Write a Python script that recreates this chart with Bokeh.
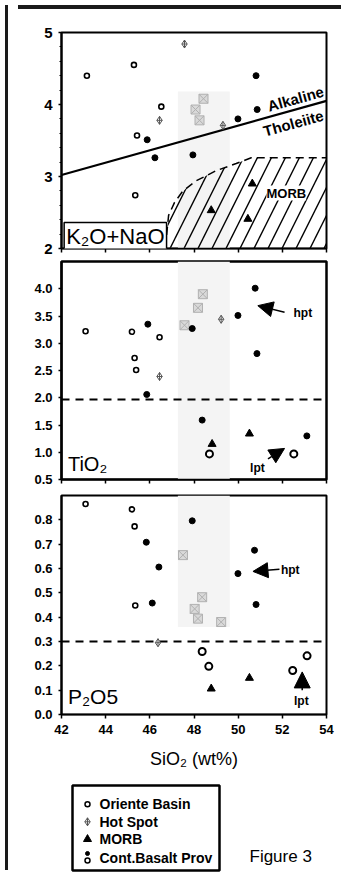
from bokeh.plotting import figure
from bokeh.layouts import column, row
from bokeh.models import (Range1d, FixedTicker, Arrow, NormalHead, Label, Div,
                          CustomLabelingPolicy)
from bokeh.embed import file_html
from bokeh.resources import INLINE

# ---------------- data ----------------
X_RANGE = (42, 54)
X_TICKS = [42, 44, 46, 48, 50, 52, 54]

# Panel 1: K2O + Na2O
k_ori_x = [43.15, 45.28, 46.52, 45.42, 45.34]
k_ori_y = [4.40, 4.55, 3.97, 3.57, 2.74]
k_hot_x = [47.57, 46.44, 49.31]
k_hot_y = [4.84, 3.78, 3.71]
k_hotg_x = [48.07, 48.43, 48.25]
k_hotg_y = [3.93, 4.08, 3.78]
k_cbp_x = [45.88, 46.23, 47.95, 49.99, 50.86, 50.81]
k_cbp_y = [3.51, 3.26, 3.30, 3.80, 3.93, 4.40]
k_morb_x = [48.78, 50.64, 50.44]
k_morb_y = [2.53, 2.90, 2.41]
alk_line_x = [42, 54]
alk_line_y = [3.02, 4.05]
morb_field_x = [46.70, 46.85, 47.12, 47.50, 48.10, 49.00, 49.91, 50.59, 54.0]
morb_field_y = [2.01, 2.46, 2.64, 2.80, 2.94, 3.08, 3.18, 3.26, 3.26]
K_YTICKS = [2, 3, 4, 5]

# Panel 2: TiO2
t_ori_x = [43.09, 45.19, 46.44, 45.31, 45.38]
t_ori_y = [3.22, 3.21, 3.11, 2.73, 2.51]
t_cbpo_x = [48.70, 52.52]
t_cbpo_y = [0.97, 0.97]
t_hot_x = [46.44, 49.23]
t_hot_y = [2.39, 3.44]
t_hotg_x = [47.57, 48.18, 48.40]
t_hotg_y = [3.33, 3.65, 3.90]
t_cbp_x = [45.91, 47.92, 49.99, 50.77, 50.85, 45.86, 48.37, 53.11]
t_cbp_y = [3.35, 3.27, 3.51, 4.01, 2.81, 2.06, 1.59, 1.30]
t_morb_x = [48.82, 50.51]
t_morb_y = [1.15, 1.34]
T_LIMIT = 1.97
T_YTICKS = [0.5, 1.0, 1.5, 2.0, 2.5, 3.0, 3.5, 4.0]

# Panel 3: P2O5
p_ori_x = [43.09, 45.19, 45.31, 45.34]
p_ori_y = [0.865, 0.843, 0.773, 0.448]
p_cbpo_x = [48.37, 48.67, 52.47, 53.12]
p_cbpo_y = [0.259, 0.198, 0.181, 0.241]
p_hot_x = [46.37]
p_hot_y = [0.295]
p_hotg_x = [47.50, 48.37, 48.03, 48.18, 49.23]
p_hotg_y = [0.655, 0.482, 0.434, 0.394, 0.380]
p_cbp_x = [47.92, 45.84, 46.41, 50.74, 49.99, 46.11, 50.81]
p_cbp_y = [0.796, 0.708, 0.606, 0.675, 0.579, 0.458, 0.452]
p_morb_x = [48.78, 50.51]
p_morb_y = [0.106, 0.150]
P_LIMIT = 0.30
P_YTICKS = [0.0, 0.1, 0.2, 0.3, 0.4, 0.5, 0.6, 0.7, 0.8]

legend_labels = ["Oriente Basin", "Hot Spot", "MORB", "Cont.Basalt Prov"]

FONT = "Liberation Sans"
BAND = (47.27, 49.62)
FIG_W = 330
BL, BR = 48, 17

NO_LABELS = CustomLabelingPolicy(code="""
try { for (let i = 0; i < indices.size; i++) { indices.unset(i) } } catch (e) {}
return indices
""")


def panel(height, top, bottom, yr, yticks, fmt, show_x, label_size):
    p = figure(width=FIG_W, height=height, x_range=Range1d(*X_RANGE), y_range=Range1d(*yr),
               output_backend="svg", toolbar_location=None,
               min_border_left=BL, min_border_right=BR, min_border_top=top, min_border_bottom=bottom)
    p.grid.visible = False
    p.outline_line_color = "black"
    p.outline_line_width = 2
    p.background_fill_color = "white"
    xa = p.xaxis[0]
    xa.ticker = FixedTicker(ticks=X_TICKS)
    xa.major_tick_out = 4
    xa.major_tick_in = 0
    xa.minor_tick_out = 0
    xa.axis_line_width = 1.5
    xa.major_tick_line_width = 1.5
    xa.axis_line_color = "black"
    xa.major_tick_line_color = "black"
    if show_x:
        xa.major_label_text_font = FONT
        xa.major_label_text_font_style = "bold"
        xa.major_label_text_font_size = "13px"
        xa.major_label_text_color = "black"
        xa.major_label_standoff = 6
        xa.axis_label = "SiO\u2082 (wt%)"
        xa.axis_label_text_font = FONT
        xa.axis_label_text_font_style = "normal"
        xa.axis_label_text_font_size = "18px"
        xa.axis_label_text_color = "black"
        xa.axis_label_standoff = 12
    else:
        xa.major_label_policy = NO_LABELS
        xa.major_label_text_font_size = "1px"
        xa.major_label_standoff = 0
    ya = p.yaxis[0]
    ya.ticker = FixedTicker(ticks=yticks)
    ya.major_label_overrides = {t: fmt.format(t) for t in yticks}
    ya.major_tick_out = 3
    ya.major_tick_in = 0
    ya.minor_tick_out = 0
    ya.axis_line_width = 2
    ya.axis_line_color = "black"
    ya.major_tick_line_width = 1.5
    ya.major_tick_line_color = "black"
    ya.major_label_text_font = FONT
    ya.major_label_text_font_style = "bold"
    ya.major_label_text_font_size = label_size
    ya.major_label_text_color = "black"
    ya.major_label_standoff = 6
    return p


def points(p, ori, cbpo, hot, hotg, cbp, morb):
    p.scatter(hot[0], hot[1], marker="diamond_cross", size=8, line_color="#555555",
              fill_color="white", line_width=1)
    p.scatter(hotg[0], hotg[1], marker="square_x", size=9, line_color="#b0b0b0",
              fill_color="#d9d9d9", line_width=1)
    if ori:
        p.scatter(ori[0], ori[1], marker="circle", size=5, line_color="black",
                  fill_color="white", line_width=1.6)
    if cbpo:
        p.scatter(cbpo[0], cbpo[1], marker="circle", size=7, line_color="black",
                  fill_color="white", line_width=2)
    p.scatter(cbp[0], cbp[1], marker="circle", size=6, line_color="black", fill_color="black")
    p.scatter(morb[0], morb[1], marker="triangle", size=8, line_color="black", fill_color="black")


def text(p, x, y, t, size, style="normal", align="left", baseline="alphabetic", angle=0.0,
         bg=None, border=None):
    lab = Label(x=x, y=y, text=t, text_font=FONT, text_font_size=size, text_font_style=style,
                text_align=align, text_baseline=baseline, angle=angle, text_color="black")
    if bg:
        lab.background_fill_color = bg
    if border:
        lab.border_line_color = border
        lab.border_line_width = 1.5
        lab.padding = 2
    p.add_layout(lab)


def arrow(p, xs, ys, xe, ye, size):
    p.add_layout(Arrow(end=NormalHead(size=size, fill_color="black", line_color="black"),
                       x_start=xs, y_start=ys, x_end=xe, y_end=ye, line_width=1.5,
                       line_color="black"))


# ---------------- panel 1 ----------------
p1 = panel(244, 18, 10, (2, 5), K_YTICKS, "{:d}", False, "15px")
p1.yaxis[0].ticker = FixedTicker(ticks=K_YTICKS, minor_ticks=[2 + 0.2 * i for i in range(16)])
p1.yaxis[0].minor_tick_out = 2
p1.yaxis[0].minor_tick_line_color = "black"
p1.quad(left=BAND[0], right=BAND[1], bottom=2, top=4.18, fill_color="#f4f4f4", line_color=None,
        level="underlay")
field_x = morb_field_x + [54.0]
field_y = morb_field_y + [2.0]
p1.patch(field_x, field_y, fill_color=None, line_color=None, hatch_pattern="/",
         hatch_scale=28, hatch_weight=1.4, hatch_color="black")
p1.line(morb_field_x, morb_field_y, line_color="black", line_width=1.5, line_dash="8 5")
p1.line(alk_line_x, alk_line_y, line_color="black", line_width=2.2)
points(p1, (k_ori_x, k_ori_y), None, (k_hot_x, k_hot_y), (k_hotg_x, k_hotg_y),
       (k_cbp_x, k_cbp_y), (k_morb_x, k_morb_y))
text(p1, 52.6, 4.08, "Alkaline", "15px", "bold", "center", "middle", 0.27)
text(p1, 52.5, 3.74, "Tholeiite", "15px", "bold", "center", "middle", 0.27)
text(p1, 52.18, 2.77, "MORB", "13px", "bold", "center", "middle", 0.0, "white")
text(p1, 42.12, 2.16, "K\u2082O+NaO", "22px", "normal", "left", "alphabetic", 0.0, "white",
     "black")

# ---------------- panel 2 ----------------
p2 = panel(231, 3, 10, (0.5, 4.5), T_YTICKS, "{:.1f}", False, "13px")
p2.outline_line_width = 2.5
p2.quad(left=BAND[0], right=BAND[1], bottom=0.5, top=4.5, fill_color="#f4f4f4", line_color=None,
        level="underlay")
p2.line(list(X_RANGE), [T_LIMIT, T_LIMIT], line_color="black", line_width=2, line_dash="8 6")
points(p2, (t_ori_x, t_ori_y), (t_cbpo_x, t_cbpo_y), (t_hot_x, t_hot_y), (t_hotg_x, t_hotg_y),
       (t_cbp_x, t_cbp_y), (t_morb_x, t_morb_y))
arrow(p2, 52.10, 3.57, 50.89, 3.69, 15)
arrow(p2, 51.35, 0.88, 52.10, 1.07, 15)
text(p2, 52.93, 3.56, "hpt", "12px", "bold", "center", "middle")
text(p2, 50.87, 0.72, "lpt", "12px", "bold", "center", "middle")
text(p2, 42.29, 0.78, "TiO\u2082", "20px", "normal", "left", "alphabetic", 0.0)

# ---------------- panel 3 ----------------
p3 = panel(288, 6, 63, (0.0, 0.9), P_YTICKS, "{:.1f}", True, "13px")
p3.quad(left=BAND[0], right=BAND[1], bottom=0.36, top=0.9, fill_color="#f4f4f4", line_color=None,
        level="underlay")
p3.line(list(X_RANGE), [P_LIMIT, P_LIMIT], line_color="black", line_width=2, line_dash="8 6")
points(p3, (p_ori_x, p_ori_y), (p_cbpo_x, p_cbpo_y), (p_hot_x, p_hot_y), (p_hotg_x, p_hotg_y),
       (p_cbp_x, p_cbp_y), (p_morb_x, p_morb_y))
arrow(p3, 51.87, 0.597, 50.67, 0.588, 15)
arrow(p3, 52.90, 0.100, 52.90, 0.175, 16)
text(p3, 52.36, 0.593, "hpt", "12px", "bold", "center", "middle")
text(p3, 52.86, 0.056, "lpt", "12px", "bold", "center", "middle")
text(p3, 42.29, 0.076, "P\u2082O5", "21px", "normal", "left", "alphabetic", 0.0)

# ---------------- legend / caption (page-pixel coordinates inside its frame) ----------------
p4 = figure(width=FIG_W, height=98, x_range=Range1d(59, 324), y_range=Range1d(873, 775),
            output_backend="svg", toolbar_location=None, min_border_left=BL,
            min_border_right=BR, min_border_top=0, min_border_bottom=0)
p4.axis.visible = False
p4.grid.visible = False
p4.outline_line_color = None
p4.quad(left=70, right=217, top=783, bottom=868, fill_color="white", line_color="black",
        line_width=2.5)
row_y = [801.7, 819.3, 836.7, 855.0]
p4.scatter([85], [row_y[0]], marker="circle", size=5, line_color="black", fill_color="white",
           line_width=1.5)
p4.scatter([85], [row_y[1]], marker="diamond_cross", size=8, line_color="#555555",
           fill_color="white", line_width=1)
p4.scatter([85], [row_y[2]], marker="triangle", size=8, line_color="black", fill_color="black")
p4.scatter([85], [row_y[3] - 4], marker="circle", size=4, line_color="black", fill_color="black")
p4.scatter([85], [row_y[3] + 3], marker="circle", size=5, line_color="black", fill_color="white",
           line_width=1.5)
for yy, lab in zip(row_y, legend_labels):
    text(p4, 97, yy, lab, "14px", "bold", "left", "middle")
text(p4, 247, 854, "Figure 3", "17px", "normal", "left", "middle")

left_bar = Div(width=3, height=865, styles={"background-color": "#1a1a1a"})
top_bar = Div(width=FIG_W, height=4, styles={"background-color": "#1a1a1a"})
layout = row(left_bar, column(top_bar, p1, p2, p3, p4, spacing=0), spacing=0)

open("out.html", "w").write(file_html(layout, INLINE))
